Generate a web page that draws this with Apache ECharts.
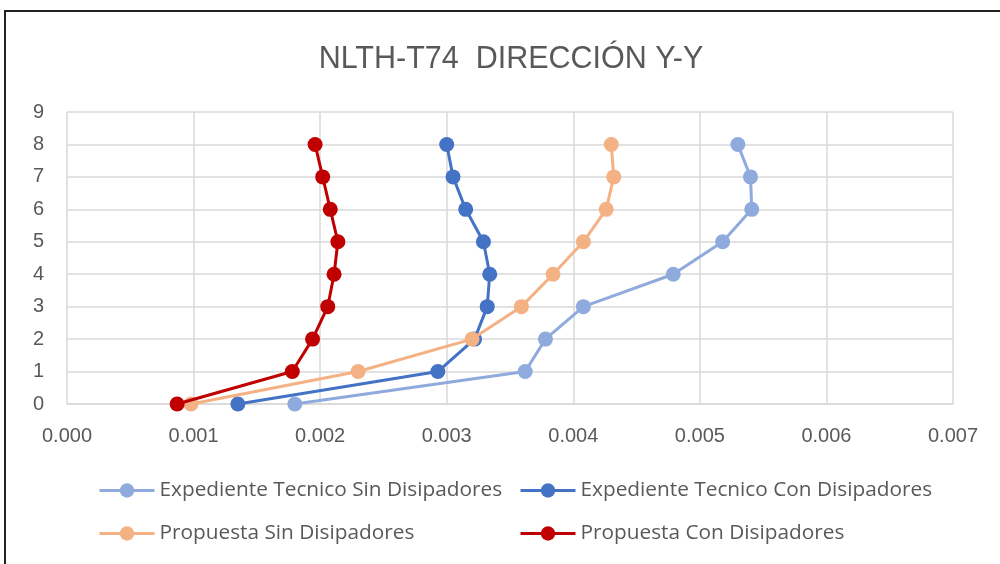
<!DOCTYPE html>
<html>
<head>
<meta charset="utf-8">
<script src="https://cdn.jsdelivr.net/npm/echarts@6/dist/echarts.min.js"></script>
<style>
  html, body { margin: 0; padding: 0; background: #fff; }
  #frame { position: absolute; left: 4px; top: 10px; width: 1100px; height: 700px; border: 2px solid #222; box-sizing: border-box; }
  #chart { position: absolute; left: 0; top: 0; width: 1000px; height: 564px; }
</style>
</head>
<body>
<div id="frame"></div>
<div id="chart"></div>
<script>
// Story levels (y) and drift values (x) for each case
const levels = [0, 1, 2, 3, 4, 5, 6, 7, 8];
const seriesNames = [
  'Expediente Tecnico Sin Disipadores',
  'Expediente Tecnico Con Disipadores',
  'Propuesta Sin Disipadores',
  'Propuesta Con Disipadores'
];
const expSin = [0.00180, 0.00362, 0.00378, 0.00408, 0.00479, 0.00518, 0.00541, 0.00540, 0.00530];
const expCon = [0.00135, 0.00293, 0.00322, 0.00332, 0.00334, 0.00329, 0.00315, 0.00305, 0.00300];
const propSin = [0.00098, 0.00230, 0.00320, 0.00359, 0.00384, 0.00408, 0.00426, 0.00432, 0.00430];
const propCon = [0.00087, 0.00178, 0.00194, 0.00206, 0.00211, 0.00214, 0.00208, 0.00202, 0.00196];
const colors = ['#8FAADC', '#4472C4', '#F4B183', '#C00000'];

const axisFont = '"Liberation Sans", Arial, sans-serif';
const legendFont = '"Open Sans", "Liberation Sans", sans-serif';
const allValues = [expSin, expCon, propSin, propCon];

const chart = echarts.init(document.getElementById('chart'), null, { renderer: 'canvas' });

const series = allValues.map((vals, i) => ({
  name: seriesNames[i],
  type: 'line',
  data: vals.map((v, k) => [v, levels[k]]),
  symbol: 'circle',
  symbolSize: 15,
  lineStyle: { width: 3, color: colors[i] },
  itemStyle: { color: colors[i] },
  z: 2 + i,
  animation: false
}));

// Legend laid out as a 2x2 block with aligned columns
const legendPos = [
  { left: 98, top: 480 },
  { left: 519, top: 480 },
  { left: 98, top: 523 },
  { left: 519, top: 523 }
];
const legends = seriesNames.map((n, i) => ({
  data: [n],
  left: legendPos[i].left,
  top: legendPos[i].top,
  padding: 0,
  itemWidth: 55,
  itemHeight: 18,
  lineStyle: { width: 3 },
  textStyle: { fontFamily: legendFont, fontSize: 20.8, color: '#595959' },
  selectedMode: false
}));

chart.setOption({
  animation: false,
  title: {
    text: 'NLTH-T74  DIRECCIÓN Y-Y',
    left: 506,
    textAlign: 'center',
    top: 39,
    textStyle: { fontFamily: axisFont, fontSize: 30.5, fontWeight: 'normal', color: '#595959' }
  },
  legend: legends,
  grid: { left: 67, right: 47, top: 112, bottom: 160 },
  xAxis: {
    type: 'value',
    min: 0,
    max: 0.007,
    interval: 0.001,
    axisLine: { show: true, lineStyle: { color: '#d9d9d9', width: 1.5 } },
    axisTick: { show: false },
    splitLine: { show: true, lineStyle: { color: '#d9d9d9', width: 1.5 } },
    axisLabel: {
      formatter: v => v.toFixed(3),
      fontFamily: axisFont, fontSize: 20, color: '#595959', margin: 22
    }
  },
  yAxis: {
    type: 'value',
    min: 0,
    max: 9,
    interval: 1,
    axisLine: { show: false },
    axisTick: { show: false },
    splitLine: { show: true, lineStyle: { color: '#d9d9d9', width: 1.5 } },
    axisLabel: { fontFamily: axisFont, fontSize: 20, color: '#595959', margin: 23 }
  },
  series: series
});
</script>
</body>
</html>
